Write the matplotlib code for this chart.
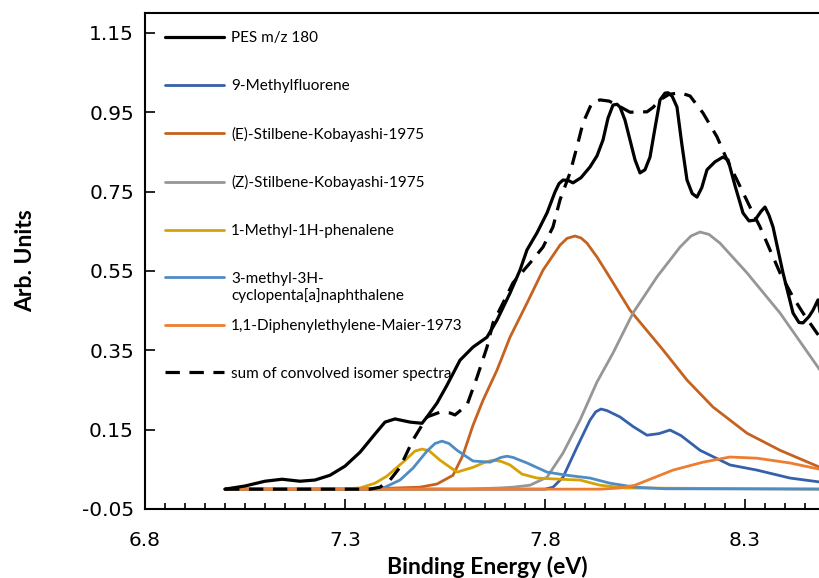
import matplotlib
matplotlib.use('Agg')
import matplotlib.pyplot as plt
from matplotlib.ticker import MultipleLocator, FixedLocator

plt.rcParams['font.family'] = ['Lato', 'DejaVu Sans']

# PES m/z 180 (measured)
pes_x = [7.000, 7.050, 7.100, 7.1425, 7.1875, 7.225, 7.2625, 7.300, 7.3375, 7.375,
         7.400, 7.425, 7.4625, 7.4925, 7.505, 7.530, 7.555, 7.5875, 7.620, 7.655,
         7.680, 7.7125, 7.7375, 7.755, 7.780, 7.805, 7.825, 7.835, 7.845, 7.858,
         7.870, 7.890, 7.9125, 7.930, 7.945, 7.9575, 7.970, 7.980, 7.9875, 8.000,
         8.0125, 8.025, 8.0375, 8.050, 8.0625, 8.075, 8.0875, 8.100, 8.1075, 8.118,
         8.130, 8.142, 8.155, 8.168, 8.180, 8.192, 8.205, 8.225, 8.245, 8.2575,
         8.275, 8.295, 8.310, 8.325, 8.340, 8.350, 8.360, 8.370, 8.395, 8.420,
         8.435, 8.445, 8.460, 8.470, 8.4825, 8.495, 8.510]
pes_y = [0.000, 0.008, 0.020, 0.025, 0.020, 0.023, 0.035, 0.058, 0.093, 0.139,
         0.169, 0.177, 0.169, 0.166, 0.182, 0.217, 0.262, 0.325, 0.358, 0.383,
         0.426, 0.494, 0.552, 0.603, 0.646, 0.696, 0.749, 0.770, 0.779, 0.778,
         0.772, 0.785, 0.812, 0.840, 0.880, 0.935, 0.968, 0.970, 0.963, 0.930,
         0.880, 0.830, 0.797, 0.805, 0.837, 0.910, 0.981, 0.998, 0.999, 0.990,
         0.963, 0.870, 0.779, 0.745, 0.736, 0.760, 0.805, 0.825, 0.837, 0.830,
         0.765, 0.696, 0.676, 0.678, 0.700, 0.711, 0.690, 0.661, 0.545, 0.444,
         0.420, 0.419, 0.435, 0.451, 0.477, 0.400, 0.330]

# sum of convolved isomer spectra
sum_x = [7.000, 7.3625, 7.3875, 7.4125, 7.4375, 7.470, 7.505, 7.5375, 7.5625, 7.575,
         7.605, 7.630, 7.655, 7.670, 7.695, 7.720, 7.7625, 7.795, 7.820, 7.8375,
         7.8625, 7.880, 7.895, 7.9175, 7.9375, 7.960, 7.980, 8.0125, 8.055, 8.070,
         8.0875, 8.110, 8.1375, 8.1625, 8.195, 8.230, 8.255, 8.280, 8.3125, 8.3375,
         8.3625, 8.3875, 8.420, 8.445, 8.480, 8.5125]
sum_y = [0.000, 0.000, 0.005, 0.023, 0.055, 0.124, 0.182, 0.194, 0.192, 0.187,
         0.212, 0.282, 0.358, 0.419, 0.469, 0.520, 0.570, 0.610, 0.661, 0.729,
         0.797, 0.863, 0.923, 0.974, 0.981, 0.978, 0.968, 0.950, 0.951, 0.962,
         0.981, 0.995, 0.999, 0.991, 0.948, 0.888, 0.830, 0.779, 0.711, 0.661,
         0.603, 0.545, 0.484, 0.444, 0.393, 0.351]

# 9-Methylfluorene
mf_x = [7.000, 7.800, 7.820, 7.845, 7.880, 7.9125, 7.927, 7.940, 7.955, 7.9875,
        8.020, 8.055, 8.085, 8.1125, 8.140, 8.1875, 8.2625, 8.330, 8.4125, 8.4875,
        8.5375]
mf_y = [0.000, 0.000, 0.005, 0.030, 0.106, 0.174, 0.195, 0.202, 0.198, 0.182,
        0.158, 0.136, 0.140, 0.149, 0.135, 0.098, 0.061, 0.048, 0.028, 0.018,
        0.013]

# (E)-Stilbene-Kobayashi-1975
es_x = [7.000, 7.300, 7.400, 7.4875, 7.530, 7.570, 7.595, 7.620, 7.645, 7.680,
        7.7125, 7.755, 7.795, 7.8375, 7.855, 7.875, 7.890, 7.905, 7.930, 7.955,
        8.0125, 8.095, 8.155, 8.220, 8.305, 8.3875, 8.4875, 8.5375]
es_y = [0.000, 0.000, 0.002, 0.005, 0.013, 0.035, 0.086, 0.161, 0.224, 0.300,
        0.383, 0.469, 0.552, 0.615, 0.632, 0.638, 0.633, 0.620, 0.585, 0.545,
        0.451, 0.351, 0.275, 0.207, 0.141, 0.098, 0.055, 0.043]

# (Z)-Stilbene-Kobayashi-1975
zs_x = [7.000, 7.600, 7.6875, 7.720, 7.7625, 7.805, 7.845, 7.8875, 7.930, 7.970,
        8.020, 8.080, 8.1375, 8.165, 8.1875, 8.210, 8.2375, 8.305, 8.3875, 8.4875,
        8.5375]
zs_y = [0.000, 0.000, 0.003, 0.005, 0.010, 0.030, 0.091, 0.174, 0.270, 0.343,
        0.444, 0.535, 0.610, 0.638, 0.648, 0.642, 0.620, 0.545, 0.444, 0.300,
        0.237]

# 1-Methyl-1H-phenalene
ph_x = [7.000, 7.2875, 7.3375, 7.375, 7.405, 7.445, 7.475, 7.4925, 7.510, 7.5375,
        7.580, 7.620, 7.650, 7.670, 7.690, 7.7125, 7.7425, 7.780, 7.8375, 7.8875,
        7.9375, 8.000, 8.540]
ph_y = [0.000, 0.000, 0.003, 0.015, 0.033, 0.068, 0.096, 0.101, 0.097, 0.073,
        0.043, 0.055, 0.068, 0.073, 0.070, 0.061, 0.038, 0.028, 0.025, 0.023,
        0.010, 0.003, 0.000]

# 3-methyl-3H-cyclopenta[a]naphthalene
cp_x = [7.000, 7.3625, 7.400, 7.4375, 7.470, 7.505, 7.525, 7.5425, 7.560, 7.580,
        7.620, 7.6625, 7.690, 7.705, 7.720, 7.755, 7.805, 7.855, 7.9125, 7.9625,
        8.025, 8.100, 8.540]
cp_y = [0.000, 0.000, 0.005, 0.023, 0.053, 0.096, 0.115, 0.121, 0.115, 0.098,
        0.071, 0.068, 0.080, 0.083, 0.080, 0.066, 0.043, 0.035, 0.028, 0.015,
        0.005, 0.001, 0.000]

# 1,1-Diphenylethylene-Maier-1973
de_x = [7.000, 7.9375, 7.9875, 8.025, 8.0625, 8.120, 8.195, 8.2625, 8.330, 8.4125,
        8.4875, 8.5375]
de_y = [0.000, 0.000, 0.003, 0.010, 0.025, 0.048, 0.068, 0.081, 0.078, 0.066,
        0.050, 0.043]

fig = plt.figure(figsize=(8.2, 5.78), dpi=100)
ax = fig.add_axes([145 / 820, 69 / 578, 680 / 820, 496 / 578])

lw = 2.0
kw = dict(solid_joinstyle='round', solid_capstyle='round')
h_pes, = ax.plot(pes_x, pes_y, color='black', lw=2.3, zorder=5, label='PES m/z 180', **kw)
h_mf, = ax.plot(mf_x, mf_y, color='#3560AA', lw=lw, zorder=3, label='9-Methylfluorene', **kw)
h_es, = ax.plot(es_x, es_y, color='#C5621F', lw=lw, zorder=3,
                label='(E)-Stilbene-Kobayashi-1975', **kw)
h_zs, = ax.plot(zs_x, zs_y, color='#969696', lw=lw, zorder=3,
                label='(Z)-Stilbene-Kobayashi-1975', **kw)
h_ph, = ax.plot(ph_x, ph_y, color='#D6A206', lw=lw, zorder=3, label='1-Methyl-1H-phenalene', **kw)
# second line of this label is placed below the legend entry (Excel-style wrap)
h_cp, = ax.plot(cp_x, cp_y, color='#4F8CC4', lw=lw, zorder=3, label='3-methyl-3H-', **kw)
h_de, = ax.plot(de_x, de_y, color='#ED7D31', lw=lw, zorder=4,
                label='1,1-Diphenylethylene-Maier-1973', **kw)
h_sum, = ax.plot(sum_x, sum_y, color='black', lw=2.3, ls=(0, (4.5, 3)), zorder=6,
                 label='sum of convolved isomer spectra')

ax.set_xlim(6.8, 8.5)
ax.set_ylim(-0.05, 1.20)
ax.xaxis.set_major_locator(FixedLocator([6.8, 7.3, 7.8, 8.3]))
ax.xaxis.set_minor_locator(MultipleLocator(0.05))
ax.yaxis.set_major_locator(FixedLocator([-0.05, 0.15, 0.35, 0.55, 0.75, 0.95, 1.15]))
ax.yaxis.set_major_formatter(plt.FuncFormatter(lambda v, p: f'{v:.2f}'))
ax.xaxis.set_major_formatter(plt.FuncFormatter(lambda v, p: f'{v:.1f}'))
ax.tick_params(axis='both', which='major', direction='in', length=7, width=1.2, pad=8)
ax.tick_params(axis='x', which='minor', direction='in', length=4.5, width=1.2)
ax.tick_params(axis='x', which='major', pad=16)
for lab in ax.get_xticklabels() + ax.get_yticklabels():
    lab.set_fontfamily('DejaVu Sans')
    lab.set_fontsize(14.5)
for s in ['left', 'bottom', 'top']:
    ax.spines[s].set_linewidth(1.5)
ax.spines['right'].set_visible(False)

ax.set_xlabel('Binding Energy (eV)', fontsize=16.5, fontweight='bold')
ax.set_ylabel('Arb. Units', fontsize=16.5, fontweight='bold')
ax.xaxis.set_label_coords(0.503, -0.095)
ax.yaxis.set_label_coords(-0.160, 0.5)

handles = [h_pes, h_mf, h_es, h_zs, h_ph, h_cp, h_de, h_sum]
leg = ax.legend(handles=handles, loc='upper left', bbox_to_anchor=(0.029, 0.963),
                frameon=False, fontsize=11, handlelength=3.9, handletextpad=0.45,
                labelspacing=2.2, borderpad=0, borderaxespad=0)

# continuation line of the wrapped legend label
fig.canvas.draw()
inv = ax.transAxes.inverted()
bb = leg.get_texts()[5].get_window_extent()
x0, y0 = inv.transform((bb.x0, bb.y0))
ax.text(x0, y0 - 0.006, 'cyclopenta[a]naphthalene', transform=ax.transAxes,
        ha='left', va='top', fontsize=11)

fig.savefig('out.png', dpi=100)
